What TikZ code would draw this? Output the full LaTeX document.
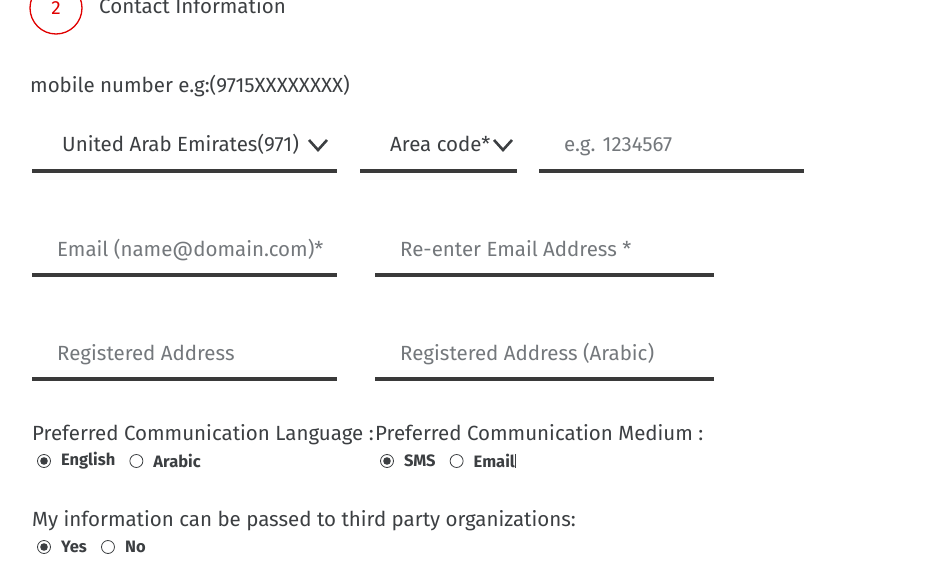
\documentclass[tikz,border=0pt]{standalone}
\usepackage{fontspec}
\setmainfont{Fira Sans}
\usetikzlibrary{positioning}
\definecolor{ink}{HTML}{3C3F42}
\definecolor{hint}{HTML}{74787C}
\definecolor{bar}{HTML}{3A3A3A}
\definecolor{stepred}{HTML}{E00000}

\begin{document}
\begin{tikzpicture}[x=1pt,y=-1pt,
  label/.style={anchor=base west,inner sep=0pt,text=ink,font=\fontsize{20.5}{24}\selectfont},
  hinttext/.style={anchor=base west,inner sep=0pt,text=hint,font=\fontsize{20.5}{24}\selectfont},
  opt/.style={anchor=base west,inner sep=0pt,text=ink,font=\bfseries\fontsize{16.5}{19}\selectfont},
  underline/.style={line width=4pt,draw=bar},
  chev/.style={line width=2.6pt,draw=ink},
  radio/.style={circle,draw=ink,line width=0.8pt,minimum size=13pt,inner sep=0pt},
  picked/.style={radio,path picture={\fill[ink] (path picture bounding box.center) circle (3.8pt);}}]
\useasboundingbox (0,0) rectangle (943,562);
\fill[white] (0,0) rectangle (943,562);

% step header
\node[circle,draw=stepred,line width=1.3pt,minimum size=52pt] (stepno) at (56,8) {};
\node[text=stepred,font=\fontsize{19}{22}\selectfont] at (stepno) {2};
\node[label] (title) at (99,13) {Contact Information};

% mobile number
\node[label] (mobile) at (30,92) {mobile number e.g:(9715XXXXXXXX)};
\node[label] (country) at (62,151) {United Arab Emirates(971)};
\node[label] (area) at (390,151) {Area code*};
\node[hinttext] (phone) at (564,151) {e.g. 1234567};
\coordinate (c1) at (318,146);
\coordinate (c2) at (503,146);
\foreach \c in {c1,c2}
  \draw[chev] ([shift={(-9,-6)}]\c) -- ([shift={(0,4)}]\c) -- ([shift={(9,-6)}]\c);
\draw[underline] (32,171) -- (337,171);
\draw[underline] (360,171) -- (517,171);
\draw[underline] (539,171) -- (804,171);

% email
\node[hinttext] (email) at (57,256) {Email (name@domain.com)*};
\node[hinttext] (email2) at (400,256) {Re-enter Email Address *};
\draw[underline] (32,275) -- (337,275);
\draw[underline] (375,275) -- (714,275);

% address
\node[hinttext] (addr) at (57,360) {Registered Address};
\node[hinttext] (addrar) at (400,360) {Registered Address (Arabic)};
\draw[underline] (32,379) -- (337,379);
\draw[underline] (375,379) -- (714,379);

% preferences
\node[label] (lang) at (32,440) {Preferred Communication Language :};
\node[picked] (en) at (44,461) {};
\node[opt,right=10pt of en.east,anchor=west] (entxt) {English};
\node[radio,right=14pt of entxt] (ar) {};
\node[opt,right=10pt of ar.east,anchor=west] (artxt) {Arabic};

\node[label] (medium) at (375,440) {Preferred Communication Medium :};
\node[picked] (sms) at (387,461) {};
\node[opt,right=10pt of sms.east,anchor=west] (smstxt) {SMS};
\node[radio,right=14pt of smstxt] (mail) {};
\node[opt,right=10pt of mail.east,anchor=west] (mailtxt) {Email};
\draw[ink,line width=1pt] ([xshift=1pt]mailtxt.north east) -- ([xshift=1pt]mailtxt.south east);

\node[label] (third) at (32,526) {My information can be passed to third party organizations:};
\node[picked] (yes) at (44,547) {};
\node[opt,right=10pt of yes.east,anchor=west] (yestxt) {Yes};
\node[radio,right=14pt of yestxt] (no) {};
\node[opt,right=10pt of no.east,anchor=west] (notxt) {No};
\end{tikzpicture}
\end{document}
